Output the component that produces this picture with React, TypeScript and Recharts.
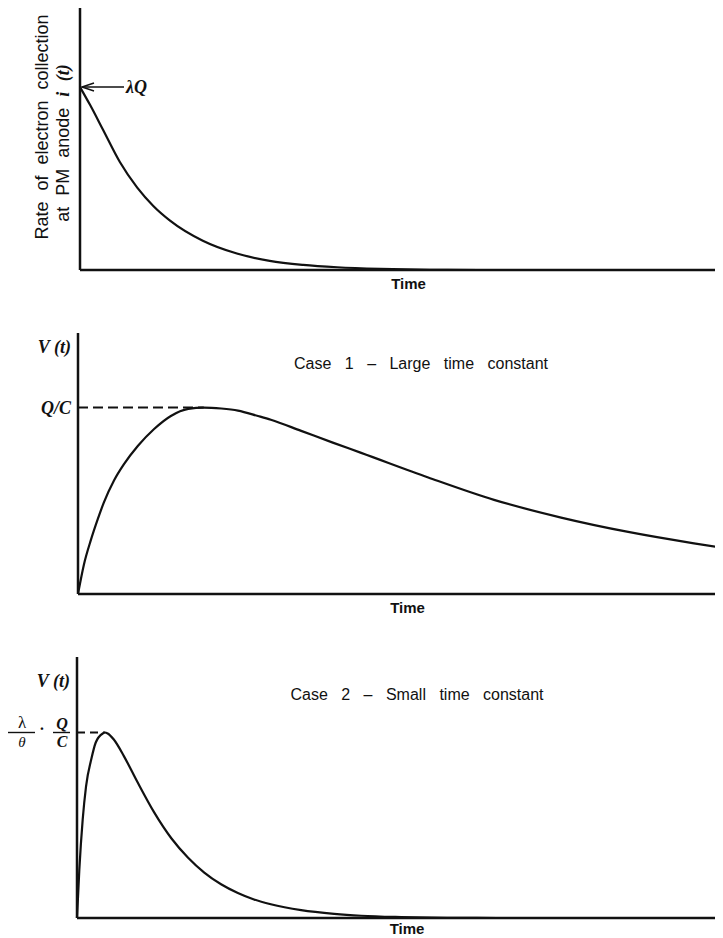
import { LineChart, Line, XAxis, YAxis, ReferenceLine } from "recharts";

// time is in % of the plotted window, values are normalised to the marked level (λQ, Q/C, λ/θ·Q/C)
const TIME_1 = [0, 1.6, 3.6, 6.2, 8.9, 11.4, 14.0, 19.1, 24.4, 29.5, 34.7, 40.0, 46.7, 54.4, 62, 100];
const RATE_1 = [1, 0.9, 0.765, 0.59, 0.45, 0.35, 0.27, 0.16, 0.09, 0.05, 0.028, 0.015, 0.006, 0.001, 0, 0];

const TIME_2 = [0, 0.93, 2.0, 3.05, 4.0, 5.6, 7.1, 9.3, 11.8, 14.4, 17.1, 19.5, 22.2, 24.8, 27.9, 29.9, 34.6, 39.5, 43.9, 54.3, 64.5, 74.9, 85.3, 95.5, 100];
const VOLT_2 = [0, 0.16, 0.29, 0.4, 0.49, 0.61, 0.695, 0.795, 0.885, 0.955, 0.993, 1, 0.995, 0.984, 0.955, 0.935, 0.875, 0.812, 0.757, 0.625, 0.505, 0.41, 0.333, 0.272, 0.248];

const TIME_3 = [0, 0.36, 0.88, 1.4, 2.2, 2.9, 4.0, 4.3, 4.75, 5.7, 7.3, 9.4, 11.9, 14.6, 17.2, 19.7, 22.3, 24.9, 27.4, 30.0, 34.7, 39.8, 44.0, 50.2, 57.3, 65, 100];
const VOLT_3 = [0, 0.26, 0.53, 0.71, 0.854, 0.946, 0.995, 1, 0.995, 0.962, 0.87, 0.73, 0.572, 0.43, 0.325, 0.245, 0.182, 0.135, 0.1, 0.074, 0.042, 0.022, 0.012, 0.005, 0.001, 0, 0];

const TITLE_2 = "Case 1 \u2013 Large time constant";
const TITLE_3 = "Case 2 \u2013 Small time constant";

const toRows = (ts: number[], vs: number[]) => ts.map((t, i) => ({ t, v: vs[i] }));
const peakOf = (ts: number[], vs: number[]) => ts[vs.indexOf(Math.max(...vs))];

const INK = "#111";
const SANS = "'Liberation Sans', Arial, sans-serif";
const SERIF = "'Liberation Serif', 'Times New Roman', serif";
const W = 715;

const timeLabel = (dy: number) => ({ viewBox }: any) => (
  <text x={viewBox.x + viewBox.width / 2 + 7} y={viewBox.y + dy} textAnchor="middle" fontFamily={SANS} fontSize={15} fontWeight="bold" fill={INK}>
    Time
  </text>
);

const LambdaTick = ({ x, y }: any) => (
  <g>
    <line x1={x + 2} y1={y} x2={x + 44} y2={y} stroke={INK} strokeWidth={1.5} />
    <polyline points={`${x + 14},${y - 4} ${x + 2},${y} ${x + 14},${y + 4}`} fill="none" stroke={INK} strokeWidth={1.5} />
    <text x={x + 46} y={y} dominantBaseline="central" fontFamily={SERIF} fontStyle="italic" fontWeight="bold" fontSize={18} fill={INK}>
      λQ
    </text>
  </g>
);

const QcTick = ({ x, y }: any) => (
  <text x={x - 7} y={y} dominantBaseline="central" textAnchor="end" fontFamily={SERIF} fontStyle="italic" fontWeight="bold" fontSize={18} fill={INK}>
    Q/C
  </text>
);

const FracTick = ({ x, y }: any) => (
  <g fontFamily={SERIF} fill={INK}>
    <text x={x - 55} y={y - 4} textAnchor="middle" fontSize={17}>λ</text>
    <line x1={x - 69} y1={y} x2={x - 42} y2={y} stroke={INK} strokeWidth={1.4} />
    <text x={x - 55} y={y + 15} textAnchor="middle" fontSize={15} fontStyle="italic">θ</text>
    <text x={x - 35} y={y + 2} textAnchor="middle" fontSize={16} fontWeight="bold">·</text>
    <text x={x - 15} y={y - 3} textAnchor="middle" fontSize={16} fontWeight="bold" fontStyle="italic">Q</text>
    <line x1={x - 24} y1={y} x2={x - 7} y2={y} stroke={INK} strokeWidth={1.4} />
    <text x={x - 15} y={y + 15} textAnchor="middle" fontSize={16} fontWeight="bold" fontStyle="italic">C</text>
  </g>
);

const vLabel = (dy: number) => ({ viewBox }: any) => (
  <text x={viewBox.x + viewBox.width - 7} y={viewBox.y + dy} textAnchor="end" fontFamily={SERIF} fontStyle="italic" fontWeight="bold" fontSize={18} fill={INK}>
    V (t)
  </text>
);

const rateLabel = () => (
  <g fontFamily={SANS} fontSize={18} fill={INK} wordSpacing={6}>
    <text x={34} y={119} textAnchor="middle" dominantBaseline="central" transform="rotate(-90 34 119)">
      Rate of electron collection
    </text>
    <text x={55} y={135} textAnchor="middle" dominantBaseline="central" transform="rotate(-90 55 135)">
      at PM anode{" "}
      <tspan fontFamily={SERIF} fontStyle="italic" fontWeight="bold">
        i (t)
      </tspan>
    </text>
  </g>
);

const axisLine = { stroke: INK, strokeWidth: 2.5 };

export default function App() {
  const rows1 = toRows(TIME_1, RATE_1);
  const rows2 = toRows(TIME_2, VOLT_2);
  const rows3 = toRows(TIME_3, VOLT_3);
  const peak2 = peakOf(TIME_2, VOLT_2);
  const peak3 = peakOf(TIME_3, VOLT_3);

  return (
    <div style={{ width: W, background: "#fff" }}>
      <LineChart width={W} height={300} data={rows1} margin={{ top: 0, right: 0, bottom: 0, left: 0 }}>
        <XAxis type="number" dataKey="t" domain={[0, 100]} tick={false} height={38} axisLine={axisLine} label={timeLabel(19)} />
        <YAxis type="number" domain={[0, 1.432]} ticks={[1]} tick={LambdaTick} tickLine={false} tickSize={0} tickMargin={0} width={72} axisLine={axisLine} label={rateLabel} />
        <Line type="monotone" dataKey="v" stroke={INK} strokeWidth={2.2} dot={false} isAnimationActive={false} />
      </LineChart>

      <LineChart width={W} height={325} data={rows2} margin={{ top: 25, right: 0, bottom: 0, left: 0 }}>
        <XAxis type="number" dataKey="t" domain={[0, 100]} tick={false} height={39} axisLine={axisLine} label={timeLabel(19)} />
        <YAxis type="number" domain={[0, 1.4]} ticks={[1]} tick={QcTick} tickLine={false} tickSize={0} tickMargin={0} width={70} axisLine={axisLine} label={vLabel(20)} />
        <ReferenceLine segment={[{ x: 0, y: 1 }, { x: peak2, y: 1 }]} stroke={INK} strokeWidth={2} strokeDasharray="10 5" />
        <Line type="monotone" dataKey="v" stroke={INK} strokeWidth={2.2} dot={false} isAnimationActive={false} />
        <text x={413} y={61} textAnchor="middle" fontFamily={SANS} fontSize={16} wordSpacing={9} fill={INK}>
          {TITLE_2}
        </text>
      </LineChart>

      <LineChart width={W} height={305} data={rows3} margin={{ top: 24, right: 0, bottom: 0, left: 0 }}>
        <XAxis type="number" dataKey="t" domain={[0, 100]} tick={false} height={20} axisLine={axisLine} label={timeLabel(16)} />
        <YAxis type="number" domain={[0, 1.407]} ticks={[1]} tick={FracTick} tickLine={false} tickSize={0} tickMargin={0} width={69} axisLine={axisLine} label={vLabel(30)} />
        <ReferenceLine segment={[{ x: 0, y: 1 }, { x: peak3, y: 1 }]} stroke={INK} strokeWidth={2} strokeDasharray="8 5" />
        <Line type="monotone" dataKey="v" stroke={INK} strokeWidth={2.2} dot={false} isAnimationActive={false} />
        <text x={409} y={67} textAnchor="middle" fontFamily={SANS} fontSize={16} wordSpacing={9} fill={INK}>
          {TITLE_3}
        </text>
      </LineChart>
    </div>
  );
}
